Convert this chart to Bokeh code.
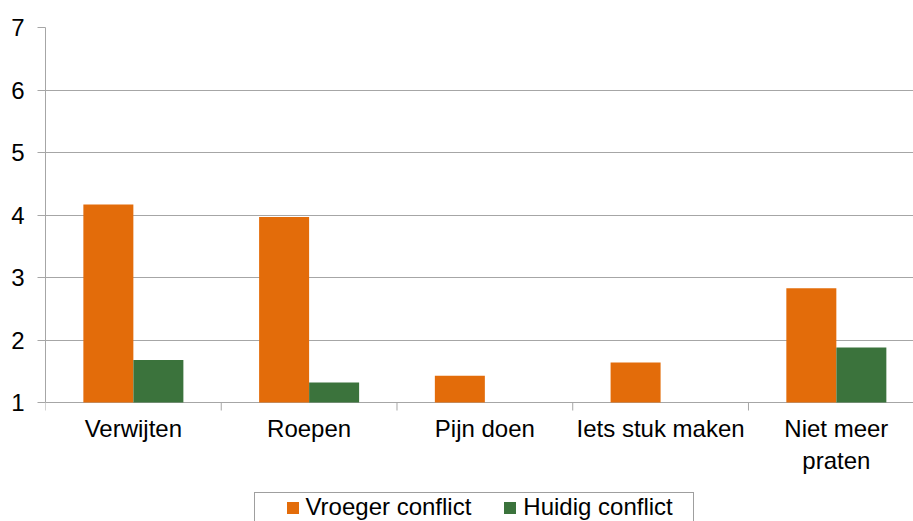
import math
from bokeh.plotting import figure
from bokeh.models import (ColumnDataSource, Range1d, FixedTicker, Legend, LegendItem)
from bokeh.core.properties import value
from bokeh.embed import file_html
from bokeh.resources import INLINE

categories = ["Verwijten", "Roepen", "Pijn doen", "Iets stuk maken", "Niet meer\npraten"]
vroeger = [4.17, 3.97, 1.43, 1.64, 2.83]
huidig = [1.68, 1.32, 1.0, 1.0, 1.88]
y_ticks = [1, 2, 3, 4, 5, 6, 7]
series_names = ["Vroeger conflict", "Huidig conflict"]

FONT = "Liberation Sans"
FS = "24px"
ORANGE = "#e36c0a"
GREEN = "#3b733c"
GRID = "#a6a6a6"

n = len(categories)
xc = [i + 0.5 for i in range(n)]
src = ColumnDataSource(dict(
    xc=xc,
    xo=[x - 0.1423 for x in xc],
    xg=[x + 0.1423 for x in xc],
    vroeger=vroeger, huidig=huidig,
    base=[1.0] * n,
    cat=categories,
))
bsrc = ColumnDataSource(dict(xb=list(range(n + 1)), yb=[1.0] * (n + 1)))

# frame: top at 27px, value 1 at 402px, frame bottom at 521px
p = figure(width=913, height=521, output_backend="svg", toolbar_location=None,
           x_range=Range1d(0, 4.939), y_range=Range1d(1 - 119 / 62.5, 7),
           x_axis_location=None,
           min_border_left=45, min_border_right=0, min_border_top=27,
           min_border_bottom=0)
p.outline_line_color = None

ro = p.vbar(x="xo", width=0.2845, top="vroeger", bottom="base", source=src,
            fill_color=ORANGE, line_color=None)
rg = p.vbar(x="xg", width=0.2845, top="huidig", bottom="base", source=src,
            fill_color=GREEN, line_color=None)
rinv = p.vbar(x=[-5], width=0.1, top=[1], bottom=[0], fill_alpha=0, line_alpha=0)

# category boundary ticks below the value-1 baseline
p.ray(x="xb", y="yb", source=bsrc, length=8, length_units="screen",
      angle=-math.pi / 2, line_color=GRID, line_width=1)

# category labels
p.text(x="xc", y="base", text="cat", source=src, text_font=value(FONT),
       text_font_size=value(FS), text_color="#000000", text_align="center",
       text_baseline="top", y_offset=12)

ya = p.yaxis[0]
ya.ticker = FixedTicker(ticks=y_ticks)
ya.bounds = (1, 7)
ya.minor_tick_line_color = None
ya.major_tick_out = 8
ya.major_tick_in = 0
ya.major_tick_line_color = GRID
ya.axis_line_color = GRID
ya.major_label_text_font = FONT
ya.major_label_text_font_size = FS
ya.major_label_text_color = "#000000"
ya.major_label_standoff = 13

p.xgrid.grid_line_color = None
p.ygrid.ticker = FixedTicker(ticks=y_ticks)
p.ygrid.grid_line_color = GRID
p.ygrid.grid_line_width = 1

box = Legend(items=[LegendItem(label=" ", renderers=[rinv])],
             location=(254 - 45, -33), orientation="horizontal",
             padding=0, margin=0, glyph_width=1, glyph_height=60,
             label_standoff=0, label_width=437, label_height=60,
             label_text_alpha=0, border_line_color="#404040", border_line_width=1,
             background_fill_color="white", background_fill_alpha=1)
p.add_layout(box, "center")

leg = Legend(items=[LegendItem(label=series_names[0], renderers=[ro]),
                    LegendItem(label=series_names[1], renderers=[rg])],
             location=(284.5 - 45, -1), orientation="horizontal",
             padding=0, margin=0, glyph_width=15, glyph_height=15,
             label_standoff=6, spacing=31, label_height=30,
             label_text_font=FONT, label_text_font_size=FS, label_text_color="#000000",
             border_line_color=None, background_fill_alpha=0)
p.add_layout(leg, "center")

open("out.html", "w").write(file_html(p, INLINE))
